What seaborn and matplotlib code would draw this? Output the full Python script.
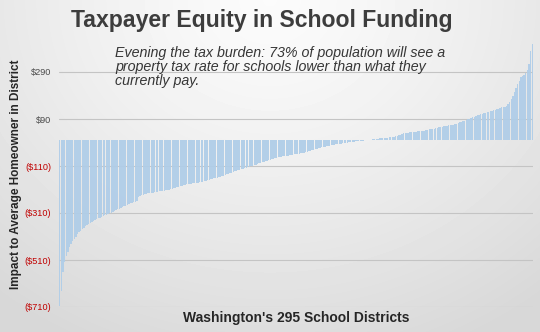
import numpy as np
import matplotlib
matplotlib.use("Agg")
import matplotlib.pyplot as plt
import seaborn as sns

# Change in annual school property tax for the average homeowner, one value per
# district, sorted from largest decrease to largest increase (dollars).
district_impact = [
    -705, -640, -560, -520, -495, -475, -455, -440, -430, -420,
    -410, -400, -392, -385, -378, -372, -367, -362, -357, -352,
    -348, -344, -340, -336, -333, -330, -326, -323, -320, -317,
    -314, -311, -308, -305, -300, -297, -294, -291, -288, -285,
    -282, -279, -276, -272, -269, -266, -264, -262, -258, -242,
    -238, -235, -233, -231, -229, -227, -226, -225, -224, -222,
    -221, -220, -218, -217, -216, -215, -213, -212, -210, -208,
    -206, -204, -202, -200, -198, -195, -193, -191, -189, -188,
    -187, -186, -185, -184, -183, -182, -181, -180, -179, -177,
    -175, -173, -171, -169, -167, -165, -163, -161, -159, -157,
    -155, -153, -151, -148, -145, -143, -141, -138, -135, -133,
    -130, -128, -126, -124, -122, -120, -117, -115, -113, -111,
    -108, -106, -104, -101, -99, -97, -95, -92, -90, -88,
    -86, -84, -82, -80, -78, -75, -73, -71, -70, -69,
    -68, -67, -66, -64, -63, -62, -61, -60, -59, -58,
    -56, -55, -53, -51, -49, -47, -45, -43, -40, -38,
    -36, -34, -33, -31, -30, -29, -27, -25, -23, -21,
    -20, -19, -18, -17, -16, -15, -14, -12, -11, -10,
    -9, -8, -7, -6, -5, -4, -3, -3, -2, -2,
    -1, -1, 1, 1, 2, 3, 4, 5, 6, 8,
    9, 9, 10, 11, 11, 12, 13, 14, 15, 17,
    19, 21, 23, 26, 29, 30, 31, 32, 33, 34,
    35, 35, 36, 37, 38, 38, 39, 41, 43, 45,
    46, 47, 48, 49, 50, 52, 54, 55, 57, 59,
    60, 62, 63, 64, 65, 66, 67, 69, 71, 76,
    78, 80, 83, 86, 89, 91, 94, 97, 100, 103,
    106, 108, 111, 113, 115, 117, 119, 121, 123, 125,
    127, 129, 131, 133, 137, 139, 141, 143, 147, 152,
    161, 175, 190, 203, 220, 239, 253, 267, 272, 278,
    284, 300, 324, 381, 409,
]
district_rank = list(range(len(district_impact)))

tick_values = [290, 90, -110, -310, -510, -710]
tick_labels = ["$290", "$90", "($110)", "($310)", "($510)", "($710)"]

title_text = "Taxpayer Equity in School Funding"
subtitle_lines = [
    "Evening the tax burden: 73% of population will see a",
    "property tax rate for schools lower than what they",
    "currently pay.",
]
x_title = "Washington's 295 School Districts"
y_title = "Impact to Average Homeowner in District"

sns.set_theme(style="white")
plt.rcParams["font.family"] = ["Liberation Sans", "DejaVu Sans"]

W, H = 540, 332
fig = plt.figure(figsize=(W / 100, H / 100), dpi=100)

# soft radial grey backdrop, brightest at top centre
bg = fig.add_axes([0, 0, 1, 1], zorder=0)
yy, xx = np.mgrid[0:1:H * 1j, 0:1:W * 1j]
r = np.sqrt(((xx - 0.5) / 0.8) ** 2 + ((yy - 0.0) / 1.15) ** 2)
shade = 0.985 - 0.14 * np.clip(r, 0, 1) ** 1.3
bg.imshow(shade, cmap="gray", vmin=0, vmax=1, extent=[0, 1, 0, 1],
          origin="upper", aspect="auto", interpolation="bilinear")
bg.set_axis_off()

ax = fig.add_axes([59 / W, 25 / H, 474 / W, 282 / H], zorder=1)
ax.set_facecolor("none")
ax.set_axisbelow(True)
ax.yaxis.grid(True, color="#c4c4c4", linewidth=0.8)

sns.barplot(x=district_rank, y=district_impact, color="#afcde8",
            saturation=1, width=0.85, linewidth=0, alpha=0.93, ax=ax)

ax.set_xlim(-0.5, len(district_impact) - 0.5)
ax.set_ylim(-710, 490)
ax.set_xticks([])
ax.set_yticks(tick_values)
ax.set_yticklabels(tick_labels, fontsize=6.6)
for lbl, v in zip(ax.get_yticklabels(), tick_values):
    lbl.set_color("#4a4a4a" if v > 0 else "#c00000")
ax.tick_params(axis="y", length=0, pad=5.8)
ax.set_xlabel("")
ax.set_ylabel("")
for s in ax.spines.values():
    s.set_visible(False)

fig.text(261.5 / W, 1 - 27 / H, title_text, ha="center", va="baseline",
         fontsize=16.6, fontweight="bold", color="#3d3d3d")
for k, line in enumerate(subtitle_lines):
    fig.text(115 / W, 1 - (56.7 + 14.3 * k) / H, line, ha="left",
             va="baseline", fontsize=10.3, style="italic", color="#363636")
fig.text(296 / W, 1 - 322 / H, x_title, ha="center", va="baseline",
         fontsize=10, fontweight="bold", color="#262626")
fig.text(16 / W, 1 - 174 / H, y_title, ha="center", va="center",
         rotation=90, fontsize=8.5, fontweight="bold", color="#262626")

fig.savefig("out.png", dpi=100)
